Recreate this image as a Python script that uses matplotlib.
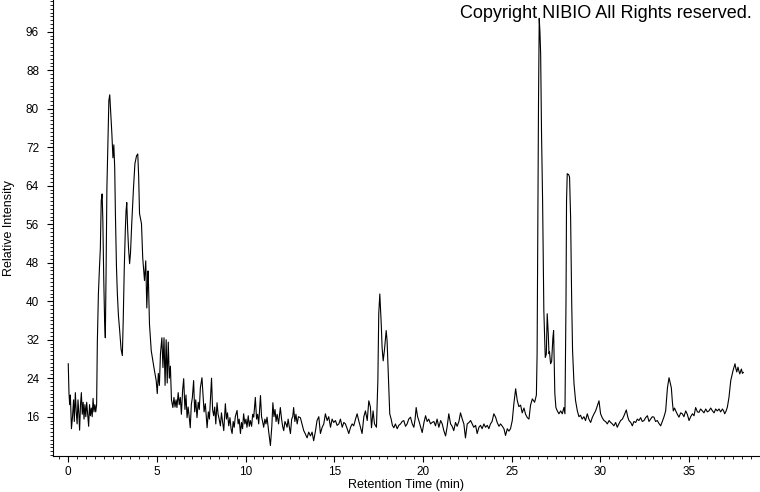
import matplotlib
matplotlib.use("Agg")
import matplotlib.pyplot as plt
from matplotlib.ticker import MultipleLocator

# retention time (min)
rt = [0.00, 0.04, 0.08, 0.12, 0.18, 0.24, 0.30, 0.34, 0.40, 0.45, 0.50, 0.55, 0.60, 0.64, 0.69, 0.74, 0.79, 0.84, 0.89, 0.94,
      0.99, 1.04, 1.09, 1.15, 1.20, 1.25, 1.30, 1.35, 1.40, 1.45, 1.50, 1.55, 1.60, 1.64, 1.70, 1.76, 1.81, 1.86, 1.91, 1.95,
      2.00, 2.05, 2.09, 2.13, 2.18, 2.24, 2.29, 2.34, 2.40, 2.46, 2.52, 2.57, 2.62, 2.66, 2.72, 2.77, 2.83, 2.90, 2.98, 3.05,
      3.10, 3.16, 3.22, 3.26, 3.30, 3.35, 3.40, 3.46, 3.51, 3.58, 3.68, 3.76, 3.85, 3.92, 3.97, 4.02, 4.08, 4.13, 4.20, 4.30,
      4.37, 4.43, 4.50, 4.53, 4.58, 4.68, 4.77, 4.86, 4.96, 5.02, 5.08, 5.14, 5.20, 5.28, 5.34, 5.40, 5.46, 5.52, 5.58, 5.64,
      5.70, 5.76, 5.82, 5.90, 5.96, 6.02, 6.08, 6.13, 6.20, 6.26, 6.32, 6.38, 6.45, 6.51, 6.58, 6.64, 6.70, 6.76, 6.82, 6.88,
      6.94, 7.00, 7.07, 7.13, 7.19, 7.26, 7.33, 7.39, 7.45, 7.54, 7.60, 7.66, 7.73, 7.83, 7.90, 7.96, 8.01, 8.08, 8.14, 8.20,
      8.26, 8.32, 8.39, 8.45, 8.51, 8.58, 8.64, 8.70, 8.77, 8.86, 8.92, 8.98, 9.05, 9.12, 9.18, 9.24, 9.30, 9.36, 9.42, 9.52,
      9.58, 9.64, 9.71, 9.77, 9.83, 9.89, 9.96, 10.02, 10.08, 10.15, 10.21, 10.27, 10.34, 10.40, 10.46, 10.55, 10.62, 10.68, 10.74, 10.84,
      10.90, 10.96, 11.02, 11.09, 11.15, 11.21, 11.30, 11.40, 11.48, 11.54, 11.60, 11.66, 11.72, 11.78, 11.86, 11.96, 12.03, 12.09, 12.15, 12.22,
      12.28, 12.34, 12.40, 12.46, 12.53, 12.60, 12.66, 12.71, 12.78, 12.84, 12.91, 12.98, 13.09, 13.18, 13.28, 13.36, 13.47, 13.56, 13.66, 13.75,
      13.84, 13.94, 14.03, 14.13, 14.22, 14.32, 14.41, 14.50, 14.60, 14.69, 14.79, 14.88, 14.97, 15.07, 15.16, 15.26, 15.35, 15.45, 15.54, 15.63,
      15.73, 15.82, 15.92, 16.01, 16.10, 16.20, 16.29, 16.38, 16.48, 16.57, 16.67, 16.76, 16.86, 16.95, 17.04, 17.10, 17.19, 17.27, 17.38, 17.46,
      17.51, 17.57, 17.65, 17.70, 17.76, 17.83, 17.93, 17.98, 18.06, 18.13, 18.21, 18.28, 18.36, 18.45, 18.55, 18.64, 18.74, 18.83, 18.92, 19.02,
      19.11, 19.20, 19.30, 19.40, 19.49, 19.56, 19.62, 19.70, 19.77, 19.86, 19.96, 20.06, 20.15, 20.24, 20.33, 20.43, 20.52, 20.62, 20.71, 20.80,
      20.90, 21.00, 21.09, 21.18, 21.28, 21.37, 21.46, 21.56, 21.65, 21.74, 21.84, 21.93, 22.03, 22.12, 22.22, 22.31, 22.40, 22.50, 22.60, 22.69,
      22.78, 22.87, 22.97, 23.06, 23.16, 23.25, 23.34, 23.44, 23.53, 23.63, 23.72, 23.81, 23.90, 24.00, 24.10, 24.19, 24.29, 24.38, 24.48, 24.57,
      24.66, 24.76, 24.85, 24.94, 25.04, 25.13, 25.23, 25.32, 25.41, 25.51, 25.60, 25.70, 25.79, 25.89, 25.98, 26.07, 26.17, 26.30, 26.40, 26.44,
      26.48, 26.52, 26.56, 26.60, 26.64, 26.69, 26.75, 26.82, 26.90, 26.96, 27.01, 27.07, 27.11, 27.14, 27.20, 27.26, 27.33, 27.37, 27.41, 27.44,
      27.50, 27.58, 27.67, 27.77, 27.86, 27.95, 28.01, 28.07, 28.10, 28.14, 28.22, 28.27, 28.33, 28.39, 28.44, 28.52, 28.61, 28.71, 28.80, 28.89,
      28.98, 29.08, 29.17, 29.27, 29.36, 29.46, 29.55, 29.65, 29.74, 29.84, 29.93, 30.02, 30.11, 30.21, 30.30, 30.40, 30.50, 30.59, 30.68, 30.77,
      30.87, 30.96, 31.05, 31.15, 31.25, 31.34, 31.47, 31.55, 31.62, 31.72, 31.81, 31.90, 32.00, 32.09, 32.18, 32.28, 32.37, 32.47, 32.56, 32.66,
      32.75, 32.84, 32.94, 33.03, 33.12, 33.22, 33.31, 33.41, 33.50, 33.59, 33.69, 33.79, 33.88, 33.95, 34.01, 34.07, 34.12, 34.19, 34.26, 34.35,
      34.44, 34.54, 34.63, 34.72, 34.82, 34.91, 35.01, 35.10, 35.20, 35.29, 35.38, 35.48, 35.57, 35.66, 35.76, 35.85, 35.95, 36.04, 36.13, 36.23,
      36.33, 36.42, 36.51, 36.60, 36.70, 36.79, 36.89, 36.96, 37.02, 37.10, 37.17, 37.26, 37.36, 37.49, 37.60, 37.65, 37.70, 37.77, 37.82, 37.87,
      37.96, 38.02, 38.07]

intensity = [27.0, 21.0, 18.5, 20.5, 13.5, 16.0, 19.5, 15.0, 21.0, 17.0, 14.5, 19.5, 16.5, 13.2, 18.5, 21.0, 16.5, 19.0, 15.5, 18.5,
             16.0, 19.0, 16.8, 14.0, 18.5, 16.2, 17.8, 16.0, 19.8, 17.0, 18.5, 17.0, 18.5, 31.4, 41.5, 47.0, 51.0, 60.9, 62.3, 57.0,
             45.0, 36.0, 32.4, 45.0, 63.6, 74.0, 81.7, 82.9, 79.0, 74.8, 69.8, 72.5, 67.7, 58.0, 47.0, 41.5, 37.0, 33.9, 30.0, 28.7,
             36.0, 47.0, 55.0, 58.8, 60.5, 55.0, 51.0, 47.8, 50.0, 56.1, 63.6, 68.6, 70.2, 70.6, 66.0, 58.2, 57.0, 56.1, 49.0, 44.3,
             48.4, 38.6, 46.3, 43.0, 35.3, 29.7, 27.6, 25.6, 23.5, 20.8, 25.0, 22.5, 29.1, 32.4, 26.2, 32.4, 22.5, 32.0, 23.0, 31.5,
             24.0, 26.5, 19.5, 17.9, 20.0, 18.0, 19.5, 17.9, 21.0, 18.5, 20.0, 16.5, 21.5, 23.9, 17.5, 20.5, 15.8, 18.0, 16.0, 13.7,
             18.5, 20.0, 23.5, 17.0, 19.5, 15.8, 19.0, 17.5, 22.0, 24.1, 20.5, 17.0, 18.7, 13.7, 17.0, 15.5, 19.0, 24.0, 17.5, 16.2,
             18.0, 14.5, 18.9, 16.5, 15.5, 14.1, 16.8, 15.0, 13.1, 18.7, 15.5, 16.8, 14.1, 15.8, 13.5, 12.5, 15.0, 13.8, 16.0, 17.3,
             14.5, 15.5, 12.5, 14.8, 13.5, 16.6, 14.5, 15.5, 13.8, 16.2, 14.0, 15.2, 14.0, 16.5, 15.9, 20.0, 15.5, 16.5, 14.5, 20.4,
             16.0, 15.0, 13.8, 15.5, 14.5, 15.9, 13.0, 10.0, 14.0, 18.9, 16.0, 17.5, 15.0, 16.5, 14.5, 17.9, 15.5, 14.0, 13.1, 15.0,
             14.5, 13.8, 15.5, 14.0, 12.5, 15.5, 16.0, 17.9, 15.0, 16.5, 14.5, 16.0, 15.8, 14.5, 13.1, 12.5, 11.6, 12.8, 12.0, 12.8,
             11.0, 13.0, 15.2, 16.0, 12.5, 13.8, 14.5, 16.6, 15.2, 16.0, 13.8, 15.5, 14.8, 15.2, 14.2, 14.5, 15.5, 13.8, 14.8, 14.5,
             13.5, 12.5, 13.8, 14.5, 14.1, 15.5, 16.6, 15.2, 13.8, 12.5, 16.0, 17.2, 15.2, 19.3, 18.0, 13.7, 17.2, 14.5, 13.8, 23.5,
             37.4, 41.5, 35.3, 30.3, 27.6, 29.8, 33.9, 31.8, 23.5, 16.6, 15.5, 14.2, 13.7, 14.5, 13.5, 14.2, 14.5, 15.0, 15.2, 14.0,
             14.5, 15.5, 15.9, 14.5, 13.8, 15.5, 17.9, 16.0, 15.2, 14.0, 12.7, 14.8, 16.2, 15.0, 15.5, 14.5, 14.8, 15.0, 14.1, 15.5,
             13.8, 15.2, 14.5, 13.1, 12.0, 14.0, 16.6, 14.5, 14.0, 13.1, 14.8, 14.0, 15.0, 16.8, 15.5, 14.5, 11.6, 14.5, 14.8, 15.2,
             14.5, 13.8, 14.2, 12.5, 13.8, 14.2, 13.5, 14.5, 13.8, 14.2, 13.5, 14.5, 15.0, 16.6, 15.9, 14.8, 14.0, 14.5, 14.0, 13.5,
             12.1, 13.5, 13.0, 13.5, 15.2, 18.7, 21.8, 19.4, 18.1, 18.4, 16.8, 17.8, 16.5, 15.8, 15.5, 18.4, 19.7, 19.0, 20.5, 29.0,
             54.0, 81.7, 98.8, 96.0, 91.4, 74.8, 60.9, 38.0, 28.3, 29.0, 37.4, 33.2, 29.1, 29.5, 27.0, 27.5, 32.4, 33.9, 27.0, 20.8,
             17.9, 17.2, 16.6, 17.2, 16.6, 17.9, 16.6, 40.1, 60.9, 66.5, 66.3, 65.8, 57.4, 40.1, 29.7, 22.9, 19.3, 17.2, 16.0, 16.3,
             15.5, 16.0, 15.2, 16.6, 15.5, 14.8, 15.8, 16.6, 17.2, 18.3, 19.3, 16.6, 15.8, 15.2, 15.0, 14.5, 15.2, 14.8, 14.5, 14.1,
             14.8, 13.8, 14.5, 15.2, 15.5, 16.2, 17.4, 16.0, 15.2, 14.8, 14.1, 15.0, 14.8, 15.5, 15.2, 15.8, 15.0, 15.2, 15.8, 16.2,
             15.0, 15.5, 16.0, 15.9, 15.0, 15.2, 14.6, 14.1, 15.0, 15.9, 17.2, 22.0, 24.1, 23.0, 22.0, 19.0, 17.2, 17.8, 17.2, 16.5,
             15.9, 16.8, 16.6, 16.0, 17.2, 16.5, 15.2, 16.0, 16.6, 16.2, 17.9, 17.0, 16.9, 17.6, 17.2, 16.8, 17.6, 17.0, 17.2, 17.8,
             17.2, 16.8, 17.6, 17.2, 17.6, 17.0, 17.6, 17.2, 16.6, 17.2, 18.0, 20.0, 23.5, 25.6, 27.0, 26.0, 25.3, 26.3, 25.5, 24.9,
             25.9, 25.0, 25.2]

plt.rcParams['font.family'] = ['Liberation Sans', 'DejaVu Sans']

fig = plt.figure(figsize=(7.6, 4.92), dpi=100)
ax = fig.add_axes([53/760, 36/492, 707/760, 456/492])

ax.plot(rt, intensity, color='black', lw=0.8)

ax.set_xlim(-0.86, 39.01)
ax.set_ylim(7.83, 102.6)

ax.xaxis.set_major_locator(MultipleLocator(5))
ax.xaxis.set_minor_locator(MultipleLocator(0.5))
ax.yaxis.set_major_locator(MultipleLocator(8))
ax.yaxis.set_minor_locator(MultipleLocator(0.8))
ax.set_yticks([16, 24, 32, 40, 48, 56, 64, 72, 80, 88, 96])

for s in ['top', 'right']:
    ax.spines[s].set_visible(False)
for s in ['left', 'bottom']:
    ax.spines[s].set_linewidth(0.8)

ax.tick_params(axis='both', which='major', length=4, width=0.8, labelsize=8.5, direction='out')
ax.tick_params(axis='both', which='minor', length=2.2, width=0.6, direction='out')
ax.tick_params(axis='y', which='major', pad=6)
ax.tick_params(axis='x', which='major', pad=3)

ax.set_xlabel('Retention Time (min)', fontsize=9, labelpad=1)
ax.set_ylabel('Relative Intensity', fontsize=9, labelpad=8)

fig.text(752/760, 1 - 5/492, 'Copyright NIBIO All Rights reserved.', ha='right', va='top', fontsize=13)

fig.savefig('out.png', dpi=100)
